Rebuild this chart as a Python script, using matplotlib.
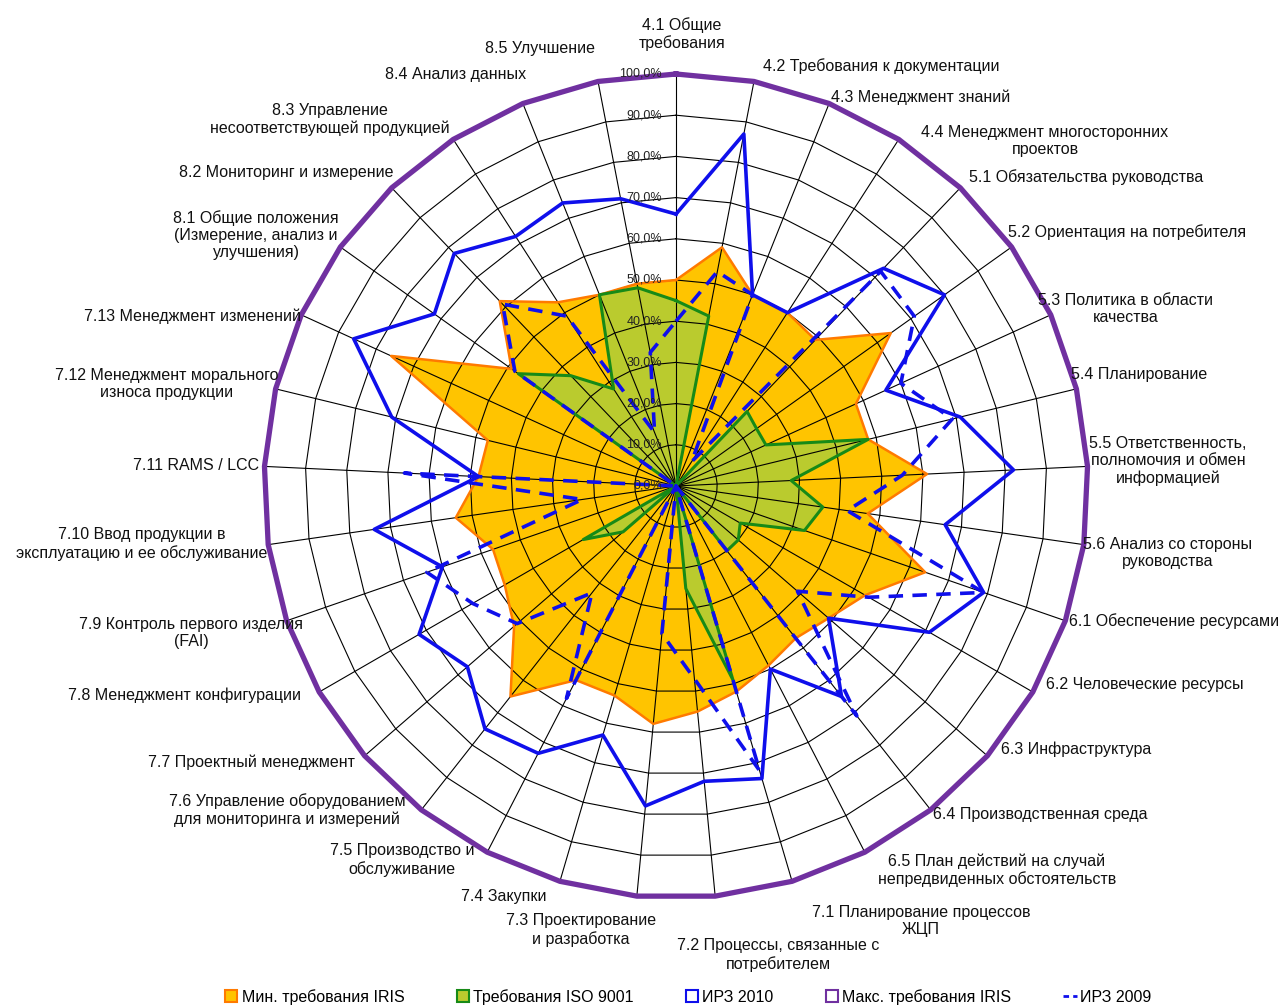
import numpy as np
import matplotlib
matplotlib.use('Agg')
import matplotlib.pyplot as plt
from matplotlib.lines import Line2D

plt.rcParams['font.family'] = ['Liberation Sans', 'DejaVu Sans']

# categories (clockwise from the top)
categories = ['4.1 Общие\nтребования', '4.2 Требования к документации',
              '4.3 Менеджмент знаний', '4.4 Менеджмент многосторонних\nпроектов',
              '5.1 Обязательства руководства', '5.2 Ориентация на потребителя',
              '5.3 Политика в области\nкачества', '5.4 Планирование',
              '5.5 Ответственность,\nполномочия и обмен\nинформацией',
              '5.6 Анализ со стороны\nруководства', '6.1 Обеспечение ресурсами',
              '6.2 Человеческие ресурсы', '6.3 Инфраструктура',
              '6.4 Производственная среда',
              '6.5 План действий на случай\nнепредвиденных обстоятельств',
              '7.1 Планирование процессов\nЖЦП', '7.2 Процессы, связанные с\nпотребителем',
              '7.3 Проектирование\nи разработка', '7.4 Закупки',
              '7.5 Производство и\nобслуживание',
              '7.6 Управление оборудованием\nдля мониторинга и измерений',
              '7.7 Проектный менеджмент', '7.8 Менеджмент конфигурации',
              '7.9 Контроль первого изделия\n(FAI)',
              '7.10 Ввод продукции в\nэксплуатацию и ее обслуживание',
              '7.11 RAMS / LCC', '7.12 Менеджмент морального\nизноса продукции',
              '7.13 Менеджмент изменений',
              '8.1 Общие положения\n(Измерение, анализ и\nулучшения)',
              '8.2 Мониторинг и измерение',
              '8.3 Управление\nнесоответствующей продукцией',
              '8.4 Анализ данных', '8.5 Улучшение']

# values in %
iris_min = [50, 59, 50, 50, 49, 64, 48, 48, 61, 47, 64, 53, 49, 47, 49, 52, 55,
            58, 53, 53, 65, 52, 48, 47, 54, 48, 47, 76, 49, 62, 53, 50, 50]
iso_9001 = [45, 42, 0, 0, 25, 24, 24, 48, 28, 36, 33, 18, 20, 20, 0, 49, 25,
            0, 0, 0, 0, 17, 26, 0, 0, 0, 0, 0, 47, 37, 28, 50, 49]
irz_2010 = [66, 87, 50, 50, 73, 80, 56, 71, 82, 66, 79, 71, 49, 65, 50, 74, 72,
            78, 63, 73, 75, 67, 72, 60, 74, 48, 71, 86, 72, 78, 72, 74, 71]
iris_max = [100, 100, 100, 100, 100, 100, 100, 100, 100, 100, 100, 100, 100,
            100, 100, 100, 100, 100, 100, 100, 100, 100, 100, 100, 100, 100,
            100, 100, 100, 100, 100, 100, 100]
irz_2009 = [40, 53, 50, 7, 72, 71, 60, 69, 55, 42, 79, 54, 39, 71, 0, 72, 47,
            36, 0, 58, 33, 51, 57, 64, 23, 66, 0, 0, 48, 61, 49, 14, 33]

ticks = [0, 10, 20, 30, 40, 50, 60, 70, 80, 90, 100]

# label centres in pixels of the 1288x1008 picture
label_xy = [(682, 34), (881, 66), (921, 97), (1045, 141), (1086, 177),
            (1127, 232), (1126, 309), (1139, 375), (1168, 461), (1168, 553),
            (1174, 621), (1145, 685), (1076, 749), (1040, 815), (997, 870),
            (921, 921), (778, 955), (581, 930), (504, 897), (402, 860),
            (287, 810), (251, 762), (185, 695), (191, 633), (142, 544),
            (196, 465), (167, 384), (193, 316), (256, 235), (286, 173),
            (330, 119), (456, 75), (540, 49)]

W, H = 1288, 1008
n = len(categories)
theta = np.linspace(0, 2 * np.pi, n, endpoint=False)
th = np.append(theta, theta[0])

def closed(v):
    v = np.array(v, dtype=float) / 100
    return np.append(v, v[0])

fig = plt.figure(figsize=(W / 100, H / 100), dpi=100)
cx, cy, R = 676, 486, 412
ax = fig.add_axes([(cx - R) / W, (H - cy - R) / H, 2 * R / W, 2 * R / H],
                  projection='polar')
ax.set_theta_zero_location('N')
ax.set_theta_direction(-1)
ax.set_ylim(0, 1)
ax.grid(False)
ax.set_xticks([])
ax.set_yticks([])
ax.spines['polar'].set_visible(False)

orange_edge = '#FF7A00'
orange_fill = '#FFC400'
green_edge = '#178A17'
green_fill = '#BACB2E'
blue = '#0F0FEB'
purple = '#7030A0'

ax.fill(th, closed(iris_min), color=orange_fill, zorder=1, lw=0)
ax.fill(th, closed(iso_9001), color=green_fill, zorder=1.5, lw=0)

# polygon gridlines and spokes
for t in ticks[1:]:
    ax.plot(th, np.full(len(th), t / 100), color='black', lw=0.8, zorder=2)
for a in theta:
    ax.plot([a, a], [0, 1], color='black', lw=0.8, zorder=2)

ax.plot(th, closed(iris_min), color=orange_edge, lw=1.8, zorder=3)
ax.plot(th, closed(iso_9001), color=green_edge, lw=2.2, zorder=3)
ax.plot(th, closed(irz_2010), color=blue, lw=2.6, zorder=4)
ax.plot(th, closed(irz_2009), color=blue, lw=2.6, dashes=(4, 2.6), zorder=5)
ax.plot(th, closed(iris_max), color=purple, lw=3.8, zorder=6, clip_on=False)

for t in ticks:
    ax.annotate(('%.1f%%' % t).replace('.', ','), xy=(0, t / 100),
                xytext=(-14, 0), textcoords='offset pixels',
                ha='right', va='center', fontsize=9, color='#222222', zorder=7)

for lab, (x, y) in zip(categories, label_xy):
    fig.text(x / W, 1 - y / H, lab, ha='center', va='center',
             multialignment='center', fontsize=11.5, color='#111111',
             linespacing=1.2)

handles = [
    Line2D([], [], ls='none', marker='s', ms=8, mfc=orange_fill, mec=orange_edge, mew=1.5),
    Line2D([], [], ls='none', marker='s', ms=8, mfc=green_fill, mec=green_edge, mew=1.5),
    Line2D([], [], ls='none', marker='s', ms=8, mfc='white', mec=blue, mew=1.5),
    Line2D([], [], ls='none', marker='s', ms=8, mfc='white', mec=purple, mew=1.5),
    Line2D([], [], color=blue, lw=2, dashes=(2, 1.5)),
]
labels = ['Мин. требования IRIS', 'Требования ISO 9001', 'ИРЗ 2010',
          'Макс. требования IRIS', 'ИРЗ 2009']
fig.legend(handles, labels, loc='center', bbox_to_anchor=(0.534, 1 - 997 / H),
           ncol=5, frameon=False, fontsize=11.5, handlelength=0.9,
           handletextpad=0.2, columnspacing=3.2)

fig.savefig('out.png', dpi=100)
